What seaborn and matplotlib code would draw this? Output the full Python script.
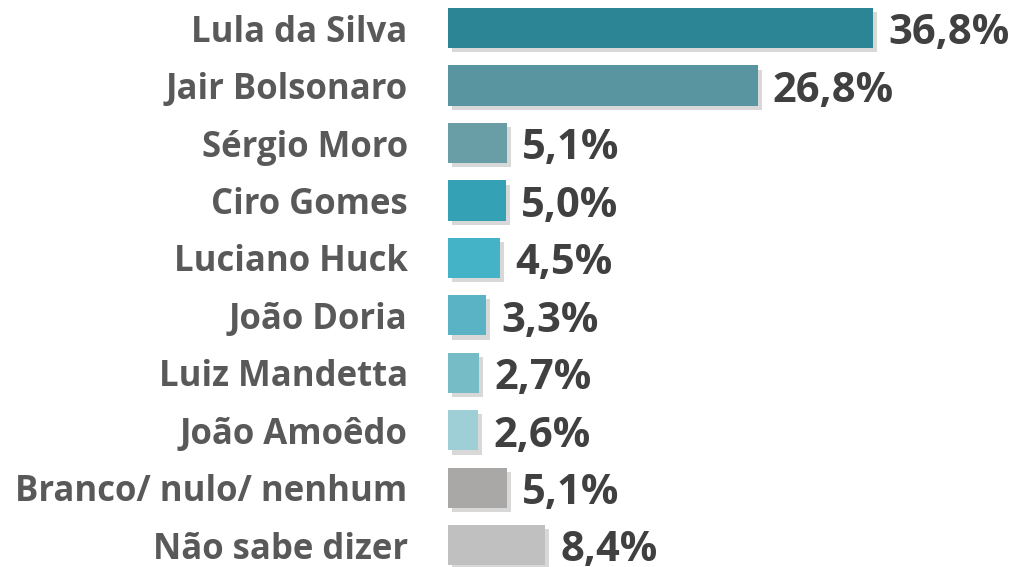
import matplotlib
matplotlib.use("Agg")
import matplotlib.pyplot as plt
import matplotlib.patheffects as pe
import seaborn as sns
import pandas as pd

# ========== DADOS ==========
candidatos = ['Lula da Silva', 'Jair Bolsonaro', 'Sérgio Moro', 'Ciro Gomes',
              'Luciano Huck', 'João Doria', 'Luiz Mandetta', 'João Amoêdo',
              'Branco/ nulo/ nenhum', 'Não sabe dizer']
percentuais = [36.8, 26.8, 5.1, 5.0, 4.5, 3.3, 2.7, 2.6, 5.1, 8.4]
cores = ['#2b8595', '#5995a0', '#6a9ea6', '#35a1b4', '#44b3c7',
         '#5ab3c4', '#76bcc7', '#9fcfd6', '#aaa7a7', '#c0c0c0']

df = pd.DataFrame({'candidato': candidatos, 'pct': percentuais})

sns.set_theme(style='white')
plt.rcParams['font.family'] = ['Open Sans', 'DejaVu Sans']

fig = plt.figure(figsize=(10.14, 5.67), dpi=100)
ax = fig.add_axes([448 / 1014, 0, 566 / 1014, 1])

sns.barplot(data=df, x='pct', y='candidato', hue='candidato',
            palette=cores, legend=False, width=0.7, ax=ax,
            saturation=1, edgecolor='none')

# sombra suave atrás das barras
sombra = [pe.SimplePatchShadow(offset=(3, -3), shadow_rgbFace='#aaaaaa', alpha=0.45),
          pe.Normal()]
for barra in ax.patches:
    barra.set_path_effects(sombra)

for i, v in enumerate(percentuais):
    ax.text(v + 1.3, i + 0.1, f'{v:.1f}%'.replace('.', ','),
            va='center', ha='left', fontsize=30, fontweight='bold',
            color='#404040')

ax.set_xlim(0, 49)
ax.set_ylim(9.38, -0.49)
ax.set_xlabel('')
ax.set_ylabel('')
ax.set_xticks([])
ax.tick_params(axis='y', length=0, pad=29)
for lbl in ax.get_yticklabels():
    lbl.set_fontsize(25)
    lbl.set_fontweight('bold')
    lbl.set_color('#595959')
sns.despine(ax=ax, left=True, bottom=True)

fig.savefig('out.png', dpi=100)
